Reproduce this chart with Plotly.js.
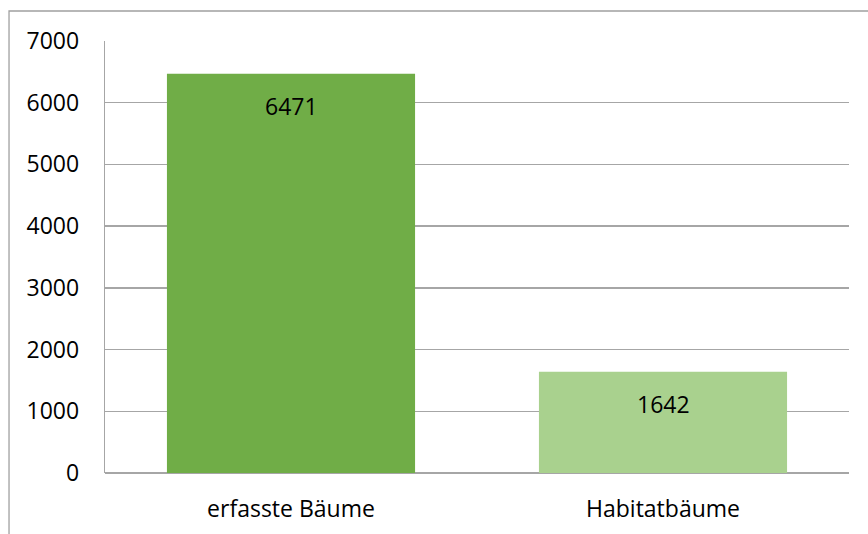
<!DOCTYPE html>
<html>
<head>
<meta charset="utf-8">
<script src="https://cdn.plot.ly/plotly-3.0.1.min.js"></script>
<style>html,body{margin:0;padding:0;background:#fff;}#chart{width:868px;height:534px;}</style>
</head>
<body>
<div id="chart"></div>
<script>
const categories = ["erfasste Bäume", "Habitatbäume"];
const values = [6471, 1642];
const barColors = ["#70AD47", "#A9D18E"];
const yTicks = [0, 1000, 2000, 3000, 4000, 5000, 6000, 7000];

const FONT = "Open Sans, Noto Sans, sans-serif";
const GRID = "#a6a6a6";
const FS = 23;

const trace = {
  type: "bar",
  x: categories,
  y: values,
  marker: { color: barColors, line: { width: 0 } },
  hoverinfo: "none"
};

const annotations = categories.map((c, i) => ({
  x: c, y: values[i], xref: "x", yref: "y",
  text: String(values[i]), showarrow: false,
  yanchor: "top", yshift: -14,
  font: { family: FONT, size: FS, color: "#000" }
}));

const layout = {
  width: 868, height: 534,
  margin: { l: 105, r: 19, t: 41, b: 61 },
  paper_bgcolor: "#fff", plot_bgcolor: "#fff",
  showlegend: false,
  bargap: 0.333,
  font: { family: FONT, size: FS, color: "#000" },
  xaxis: {
    type: "category",
    showgrid: false, showline: false, zeroline: false,
    ticks: "", ticklabelstandoff: 20,
    tickfont: { family: FONT, size: FS, color: "#000" }
  },
  yaxis: {
    range: [0, 7000], tickvals: yTicks, ticktext: yTicks.map(String),
    showgrid: true, gridcolor: GRID, gridwidth: 1.3,
    zeroline: true, zerolinecolor: GRID, zerolinewidth: 1.3,
    showline: true, linecolor: GRID, linewidth: 1.3,
    ticks: "", ticklabelstandoff: 20,
    tickfont: { family: FONT, size: FS, color: "#000" }
  },
  annotations: annotations,
  shapes: [{
    type: "rect", xref: "paper", yref: "paper",
    x0: -0.129, x1: 1.04, y0: -0.2, y1: 1.0694,
    line: { color: "#a0a0a0", width: 1.3 }, fillcolor: "rgba(0,0,0,0)", layer: "below"
  }]
};

Plotly.newPlot("chart", [trace], layout, { displayModeBar: false, staticPlot: true });
</script>
</body>
</html>
